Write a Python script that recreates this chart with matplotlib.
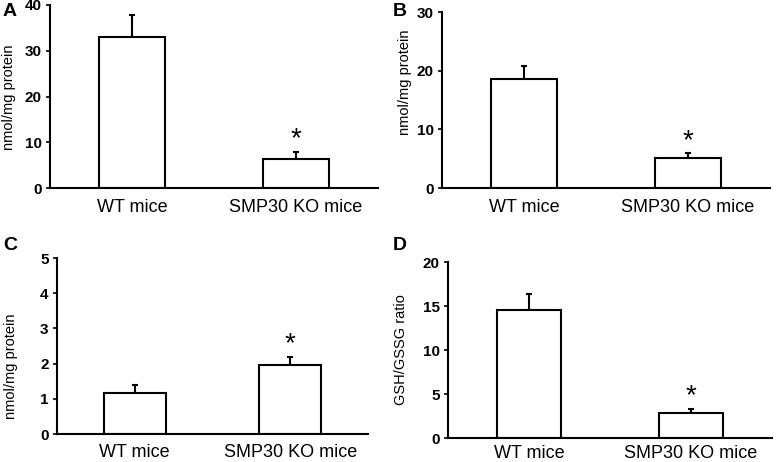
import matplotlib
matplotlib.use("Agg")
import matplotlib.pyplot as plt

plt.rcParams['font.family'] = ['Liberation Sans', 'DejaVu Sans']

# Données
groupes = ["WT mice", "SMP30 KO mice"]
valeurs_a = [33.1, 6.3]
erreurs_a = [4.7, 1.6]
valeurs_b = [18.6, 5.1]
erreurs_b = [2.2, 0.8]
valeurs_c = [1.17, 1.95]
erreurs_c = [0.22, 0.24]
valeurs_d = [14.6, 2.8]
erreurs_d = [1.8, 0.5]

ymax = [40, 30, 5, 20]
pas_y = [10, 10, 1, 5]
lettres = ["A", "B", "C", "D"]
ylabels = ["nmol/mg protein", "nmol/mg protein", "nmol/mg protein", "GSH/GSSG ratio"]

W, H = 777, 462
fig = plt.figure(figsize=(W / 100, H / 100), dpi=100)

# positions des axes en pixels : gauche, droite, haut, bas
boites = [(50, 378, 5, 188), (442, 770, 12, 188), (57, 368, 258, 434), (448, 772, 262, 438)]
pos_lettre = [(10, 12), (400, 12), (10, 246), (400, 245)]
pos_ylabel = [(9, 97), (405, 82), (11, 366), (401, 350)]
pad_x = [8, 8, 7, 5]

donnees = [(valeurs_a, erreurs_a), (valeurs_b, erreurs_b), (valeurs_c, erreurs_c), (valeurs_d, erreurs_d)]

for i, (vals, errs) in enumerate(donnees):
    g, d, h, b = boites[i]
    ax = fig.add_axes([g / W, (H - b) / H, (d - g) / W, (b - h) / H])
    x = list(range(len(groupes)))
    ax.bar(x, vals, width=0.4, color="white", edgecolor="black", linewidth=1.5, zorder=2)
    ax.errorbar(x, vals, yerr=[[0, 0], errs], fmt="none", ecolor="black",
                elinewidth=1.5, capsize=2, capthick=1.5, zorder=1)
    # astérisque au-dessus du groupe KO
    ax.annotate("*", xy=(1, vals[1] + errs[1]), xytext=(0, 4), textcoords="offset points",
                ha="center", va="baseline", fontsize=20)
    ax.set_xlim(-0.5, 1.5)
    ax.set_ylim(0, ymax[i])
    ax.set_yticks([k * pas_y[i] for k in range(int(ymax[i] / pas_y[i]) + 1)])
    ax.set_xticks(x)
    ax.set_xticklabels(groupes, fontsize=13)
    ax.tick_params(axis="x", length=0, pad=pad_x[i])
    ax.tick_params(axis="y", length=3, width=1.2, direction="out", pad=3, labelsize=11)
    for lab in ax.get_yticklabels():
        lab.set_fontweight("bold")
    ax.spines["top"].set_visible(False)
    ax.spines["right"].set_visible(False)
    ax.spines["left"].set_linewidth(1.5)
    ax.spines["bottom"].set_linewidth(1.5)

    fig.text(pos_lettre[i][0] / W, 1 - pos_lettre[i][1] / H, lettres[i], fontsize=14,
             fontweight="bold", ha="center", va="center")
    fig.text(pos_ylabel[i][0] / W, 1 - pos_ylabel[i][1] / H, ylabels[i], fontsize=10.5,
             rotation=90, ha="center", va="center")

fig.savefig("out.png", dpi=100)
